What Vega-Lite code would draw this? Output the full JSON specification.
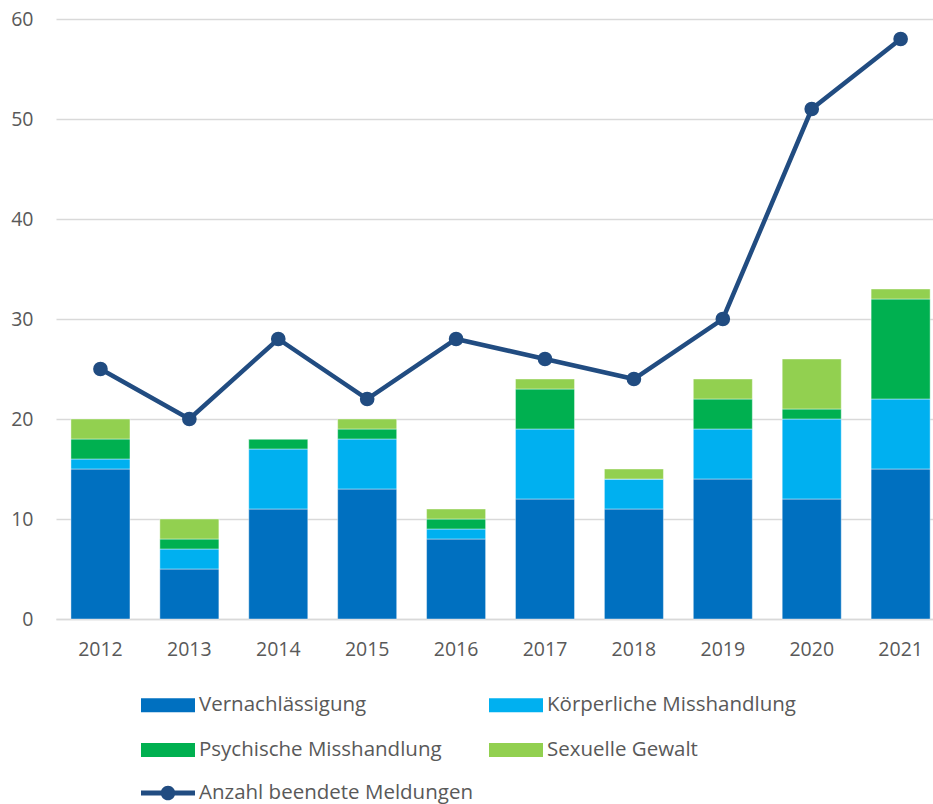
{
  "$schema": "https://vega.github.io/schema/vega-lite/v6.json",
  "autosize": {"type": "none"},
  "width": 877,
  "height": 600,
  "padding": {"left": 56, "top": 19, "right": 0, "bottom": 185},
  "background": "white",
  "config": {
    "view": {"stroke": null},
    "font": "Open Sans",
    "axis": {"labelFont": "Open Sans", "labelFontSize": 19.5, "labelColor": "#595959"},
    "legend": {"labelFont": "Open Sans", "labelFontSize": 20.5, "labelColor": "#595959", "labelLimit": 500}
  },
  "datasets": {
    "bars": [
      {"Jahr": "2012", "Kategorie": "Vernachlässigung", "idx": 1, "Anzahl": 15},
      {"Jahr": "2012", "Kategorie": "Körperliche Misshandlung", "idx": 2, "Anzahl": 1},
      {"Jahr": "2012", "Kategorie": "Psychische Misshandlung", "idx": 3, "Anzahl": 2},
      {"Jahr": "2012", "Kategorie": "Sexuelle Gewalt", "idx": 4, "Anzahl": 2},
      {"Jahr": "2013", "Kategorie": "Vernachlässigung", "idx": 1, "Anzahl": 5},
      {"Jahr": "2013", "Kategorie": "Körperliche Misshandlung", "idx": 2, "Anzahl": 2},
      {"Jahr": "2013", "Kategorie": "Psychische Misshandlung", "idx": 3, "Anzahl": 1},
      {"Jahr": "2013", "Kategorie": "Sexuelle Gewalt", "idx": 4, "Anzahl": 2},
      {"Jahr": "2014", "Kategorie": "Vernachlässigung", "idx": 1, "Anzahl": 11},
      {"Jahr": "2014", "Kategorie": "Körperliche Misshandlung", "idx": 2, "Anzahl": 6},
      {"Jahr": "2014", "Kategorie": "Psychische Misshandlung", "idx": 3, "Anzahl": 1},
      {"Jahr": "2014", "Kategorie": "Sexuelle Gewalt", "idx": 4, "Anzahl": 0},
      {"Jahr": "2015", "Kategorie": "Vernachlässigung", "idx": 1, "Anzahl": 13},
      {"Jahr": "2015", "Kategorie": "Körperliche Misshandlung", "idx": 2, "Anzahl": 5},
      {"Jahr": "2015", "Kategorie": "Psychische Misshandlung", "idx": 3, "Anzahl": 1},
      {"Jahr": "2015", "Kategorie": "Sexuelle Gewalt", "idx": 4, "Anzahl": 1},
      {"Jahr": "2016", "Kategorie": "Vernachlässigung", "idx": 1, "Anzahl": 8},
      {"Jahr": "2016", "Kategorie": "Körperliche Misshandlung", "idx": 2, "Anzahl": 1},
      {"Jahr": "2016", "Kategorie": "Psychische Misshandlung", "idx": 3, "Anzahl": 1},
      {"Jahr": "2016", "Kategorie": "Sexuelle Gewalt", "idx": 4, "Anzahl": 1},
      {"Jahr": "2017", "Kategorie": "Vernachlässigung", "idx": 1, "Anzahl": 12},
      {"Jahr": "2017", "Kategorie": "Körperliche Misshandlung", "idx": 2, "Anzahl": 7},
      {"Jahr": "2017", "Kategorie": "Psychische Misshandlung", "idx": 3, "Anzahl": 4},
      {"Jahr": "2017", "Kategorie": "Sexuelle Gewalt", "idx": 4, "Anzahl": 1},
      {"Jahr": "2018", "Kategorie": "Vernachlässigung", "idx": 1, "Anzahl": 11},
      {"Jahr": "2018", "Kategorie": "Körperliche Misshandlung", "idx": 2, "Anzahl": 3},
      {"Jahr": "2018", "Kategorie": "Psychische Misshandlung", "idx": 3, "Anzahl": 0},
      {"Jahr": "2018", "Kategorie": "Sexuelle Gewalt", "idx": 4, "Anzahl": 1},
      {"Jahr": "2019", "Kategorie": "Vernachlässigung", "idx": 1, "Anzahl": 14},
      {"Jahr": "2019", "Kategorie": "Körperliche Misshandlung", "idx": 2, "Anzahl": 5},
      {"Jahr": "2019", "Kategorie": "Psychische Misshandlung", "idx": 3, "Anzahl": 3},
      {"Jahr": "2019", "Kategorie": "Sexuelle Gewalt", "idx": 4, "Anzahl": 2},
      {"Jahr": "2020", "Kategorie": "Vernachlässigung", "idx": 1, "Anzahl": 12},
      {"Jahr": "2020", "Kategorie": "Körperliche Misshandlung", "idx": 2, "Anzahl": 8},
      {"Jahr": "2020", "Kategorie": "Psychische Misshandlung", "idx": 3, "Anzahl": 1},
      {"Jahr": "2020", "Kategorie": "Sexuelle Gewalt", "idx": 4, "Anzahl": 5},
      {"Jahr": "2021", "Kategorie": "Vernachlässigung", "idx": 1, "Anzahl": 15},
      {"Jahr": "2021", "Kategorie": "Körperliche Misshandlung", "idx": 2, "Anzahl": 7},
      {"Jahr": "2021", "Kategorie": "Psychische Misshandlung", "idx": 3, "Anzahl": 10},
      {"Jahr": "2021", "Kategorie": "Sexuelle Gewalt", "idx": 4, "Anzahl": 1}
    ],
    "line": [
      {"Jahr": "2012", "Serie": "Anzahl beendete Meldungen", "Anzahl": 25},
      {"Jahr": "2013", "Serie": "Anzahl beendete Meldungen", "Anzahl": 20},
      {"Jahr": "2014", "Serie": "Anzahl beendete Meldungen", "Anzahl": 28},
      {"Jahr": "2015", "Serie": "Anzahl beendete Meldungen", "Anzahl": 22},
      {"Jahr": "2016", "Serie": "Anzahl beendete Meldungen", "Anzahl": 28},
      {"Jahr": "2017", "Serie": "Anzahl beendete Meldungen", "Anzahl": 26},
      {"Jahr": "2018", "Serie": "Anzahl beendete Meldungen", "Anzahl": 24},
      {"Jahr": "2019", "Serie": "Anzahl beendete Meldungen", "Anzahl": 30},
      {"Jahr": "2020", "Serie": "Anzahl beendete Meldungen", "Anzahl": 51},
      {"Jahr": "2021", "Serie": "Anzahl beendete Meldungen", "Anzahl": 58}
    ]
  },
  "encoding": {
    "x": {
      "field": "Jahr", "type": "ordinal", "title": null,
      "scale": {"paddingInner": 0.336, "paddingOuter": 0.1, "align": 0.84},
      "axis": {"labelAngle": 0, "ticks": false, "tickSize": 0, "domain": true, "domainColor": "#d9d9d9", "domainWidth": 1.5, "labelPadding": 21}
    }
  },
  "layer": [
    {
      "data": {"name": "bars"},
      "mark": {"type": "bar", "stroke": "white", "strokeWidth": 0.6, "strokeOpacity": 0.7},
      "encoding": {
        "y": {
          "field": "Anzahl", "type": "quantitative", "stack": "zero", "title": null,
          "scale": {"domain": [0, 60]},
          "axis": {"values": [0, 10, 20, 30, 40, 50, 60], "grid": true, "gridColor": "#d9d9d9", "gridWidth": 1.5, "domain": false, "ticks": false, "tickSize": 0, "labelPadding": 23}
        },
        "color": {
          "field": "Kategorie", "type": "nominal",
          "scale": {
            "domain": ["Vernachlässigung", "Körperliche Misshandlung", "Psychische Misshandlung", "Sexuelle Gewalt"],
            "range": ["#0070C0", "#00B0F0", "#00B050", "#92D050"]
          },
          "legend": {
            "title": null, "orient": "none", "legendX": 85, "legendY": 659,
            "columns": 2, "direction": "horizontal", "columnPadding": 47, "rowPadding": 7,
            "symbolType": "M-1,-0.26H1V0.26H-1Z", "symbolSize": 2916, "symbolStrokeWidth": 0,
            "labelOffset": 4
          }
        },
        "order": {"field": "idx", "type": "quantitative"}
      }
    },
    {
      "data": {"name": "line"},
      "mark": {"type": "line", "strokeWidth": 4.5, "point": {"filled": true, "size": 160, "color": "#214C81"}},
      "encoding": {
        "y": {"field": "Anzahl", "type": "quantitative"},
        "stroke": {
          "field": "Serie", "type": "nominal",
          "scale": {"range": ["#214C81"]},
          "legend": {
            "title": null, "orient": "none", "legendX": 85, "legendY": 747,
            "symbolType": "M-1,-0.09H1V0.09H-1Z M-0.27,0A0.27,0.27 0 1,1 0.27,0A0.27,0.27 0 1,1 -0.27,0Z",
            "symbolSize": 2916, "symbolFillColor": "#214C81", "symbolStrokeColor": "#214C81", "symbolStrokeWidth": 0,
            "labelOffset": 4
          }
        }
      }
    }
  ]
}
